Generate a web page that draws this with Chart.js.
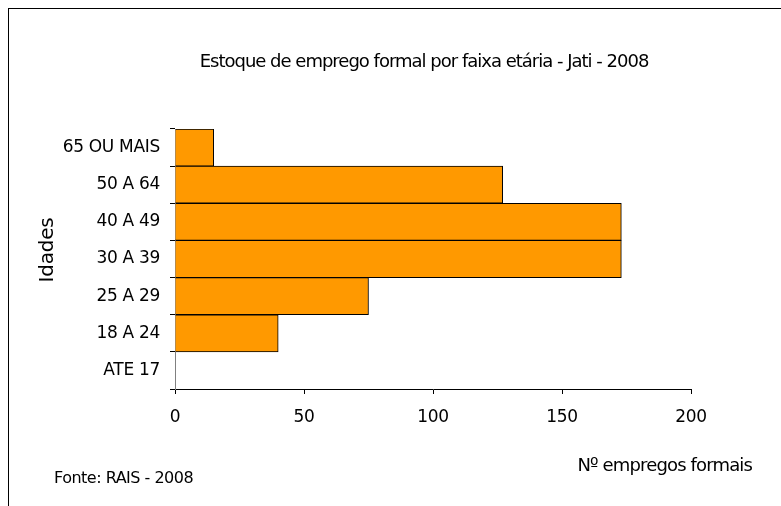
<!DOCTYPE html>
<html lang="pt">
<head>
    <meta charset="UTF-8">
    <script src="https://cdn.jsdelivr.net/npm/chart.js@4.4.0/dist/chart.umd.min.js"></script>
    <title>Estoque de emprego formal por faixa etária - Jati - 2008</title>
    <style>
        * { margin: 0; padding: 0; box-sizing: border-box; }
        body { background: #fff; width: 781px; height: 506px; overflow: hidden; }
        .wrap { position: relative; width: 781px; height: 506px; }
        .frame {
            position: absolute; left: 8px; top: 8px; width: 800px; height: 520px;
            border: 1px solid #000;
        }
        canvas { position: absolute; left: 0; top: 0; }
    </style>
</head>
<body>
    <div class="wrap">
        <div class="frame"></div>
        <canvas id="ageChart" width="781" height="506"></canvas>
    </div>

    <script>
        const categories = ['65 OU MAIS', '50 A 64', '40 A 49', '30 A 39', '25 A 29', '18 A 24', 'ATE 17'];
        const jobs = [15, 127, 173, 173, 75, 40, 0];
        const xTicks = [0, 50, 100, 150, 200];

        const FONT = "'DejaVu Sans', Verdana, sans-serif";

        // tight letter spacing like the original render
        const spacingPlugin = {
            id: 'spacing',
            beforeDraw(chart) {
                chart.ctx.letterSpacing = '-0.3px';
            }
        };

        // titles and notes drawn at fixed spots around the plot
        const textPlugin = {
            id: 'texts',
            afterDraw(chart) {
                const ctx = chart.ctx;
                ctx.save();
                ctx.fillStyle = '#000';
                ctx.textBaseline = 'alphabetic';

                ctx.font = '18px ' + FONT;
                ctx.letterSpacing = '-1px';
                ctx.textAlign = 'center';
                ctx.fillText('Estoque de emprego formal por faixa etária - Jati - 2008', 424, 67);

                ctx.font = '18px ' + FONT;
                ctx.letterSpacing = '-0.85px';
                ctx.textAlign = 'right';
                ctx.fillText('Nº empregos formais', 752, 471);

                ctx.font = '16px ' + FONT;
                ctx.letterSpacing = '-0.5px';
                ctx.textAlign = 'left';
                ctx.fillText('Fonte: RAIS - 2008', 54, 483);

                ctx.translate(53, 250);
                ctx.rotate(-Math.PI / 2);
                ctx.font = '20px ' + FONT;
                ctx.letterSpacing = '-0.2px';
                ctx.textAlign = 'center';
                ctx.fillText('Idades', 0, 0);
                ctx.restore();
            }
        };

        new Chart(document.getElementById('ageChart'), {
            type: 'bar',
            data: {
                labels: categories,
                datasets: [{
                    data: jobs,
                    backgroundColor: '#FF9900',
                    borderColor: '#000',
                    borderWidth: 1,
                    categoryPercentage: 1,
                    barPercentage: 1
                }]
            },
            options: {
                indexAxis: 'y',
                responsive: false,
                animation: false,
                layout: { padding: { left: 0, top: 129, right: 90, bottom: 0 } },
                plugins: {
                    legend: { display: false },
                    tooltip: { enabled: false }
                },
                scales: {
                    x: {
                        min: 0,
                        max: 200,
                        afterBuildTicks(scale) {
                            scale.ticks = xTicks.map(v => ({ value: v }));
                        },
                        afterFit(scale) { scale.height = 117; },
                        grid: {
                            display: true,
                            drawOnChartArea: false,
                            drawTicks: true,
                            tickLength: 5,
                            color: '#000'
                        },
                        border: { color: '#000', width: 1 },
                        ticks: {
                            color: '#000',
                            padding: 13,
                            maxRotation: 0,
                            font: { family: FONT, size: 17 }
                        }
                    },
                    y: {
                        afterFit(scale) { scale.width = 175; },
                        grid: {
                            display: true,
                            drawOnChartArea: false,
                            drawTicks: true,
                            tickLength: 5,
                            offset: true,
                            color: '#000'
                        },
                        border: { color: '#808080', width: 1 },
                        ticks: {
                            color: '#000',
                            padding: 10,
                            font: { family: FONT, size: 17 }
                        }
                    }
                }
            },
            plugins: [spacingPlugin, textPlugin]
        });
    </script>
</body>
</html>
